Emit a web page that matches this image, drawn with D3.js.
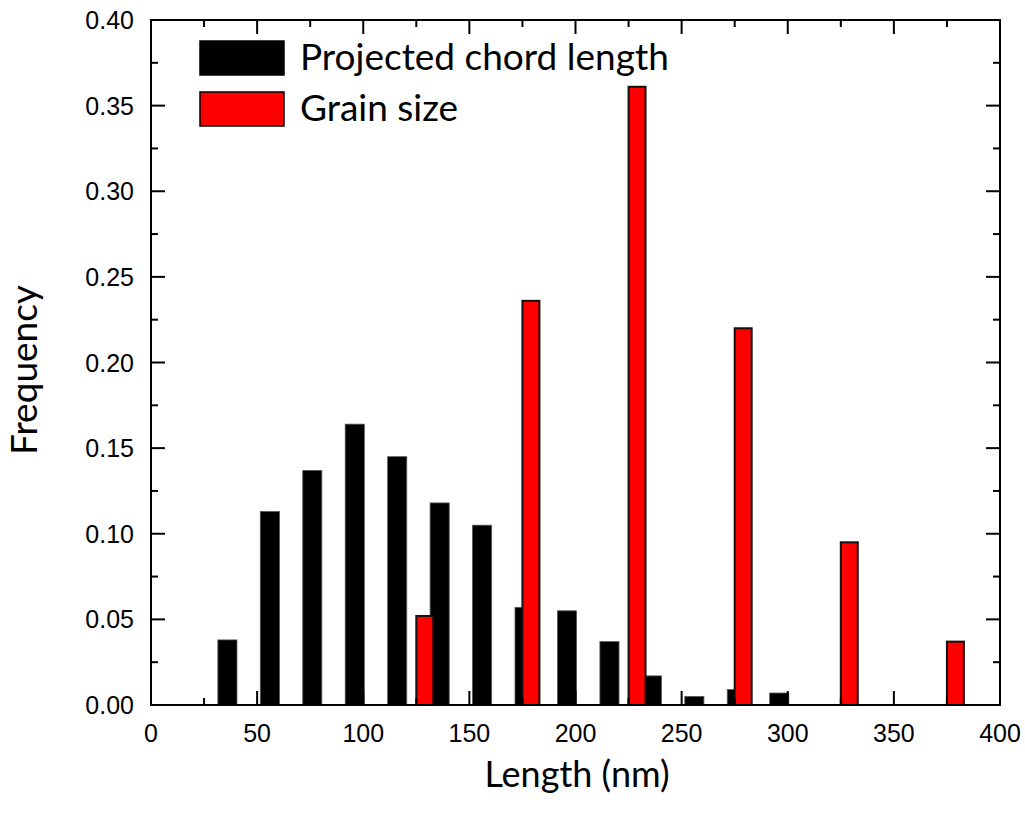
<!DOCTYPE html>
<html>
<head>
<meta charset="utf-8">
<script src="https://cdn.jsdelivr.net/npm/d3@7"></script>
<style>
body { margin: 0; background: #fff; }
</style>
</head>
<body>
<script>
"use strict";

// bin centres (nm) and frequencies
var chordCenters = [36, 56, 76, 96, 116, 136, 156, 176, 196, 216, 236, 256, 276, 296];
var chordFreq = [0.038, 0.113, 0.137, 0.164, 0.145, 0.118, 0.105, 0.057, 0.055, 0.037, 0.017, 0.005, 0.009, 0.007];
var grainCenters = [129, 179, 229, 279, 329, 379];
var grainFreq = [0.052, 0.236, 0.361, 0.220, 0.095, 0.037];
var xTicks = [0, 50, 100, 150, 200, 250, 300, 350, 400];
var yTicks = [0, 0.05, 0.10, 0.15, 0.20, 0.25, 0.30, 0.35, 0.40];
var legendLabels = ["Projected chord length", "Grain size"];

var widthEcran = 1025, heightEcran = 817;
var plotLeft = 151, plotRight = 1000, plotTop = 20, plotBottom = 705;

var canvas = d3.select("body").append("svg")
    .attr("width", widthEcran)
    .attr("height", heightEcran);

var x = d3.scaleLinear().domain([0, 400]).range([plotLeft, plotRight]);
var y = d3.scaleLinear().domain([0, 0.40]).range([plotBottom, plotTop]);

var chordW = 9, grainW = 8;

// black bars
canvas.selectAll(".chord").data(chordCenters).enter()
    .append("rect")
    .attr("class", "chord")
    .attr("x", function(d) { return x(d - chordW / 2); })
    .attr("width", x(chordW) - x(0))
    .attr("y", function(d, i) { return y(chordFreq[i]); })
    .attr("height", function(d, i) { return plotBottom - y(chordFreq[i]); })
    .attr("fill", "#000")
    .attr("stroke", "#555")
    .attr("stroke-width", 0.8);

// red bars
canvas.selectAll(".grain").data(grainCenters).enter()
    .append("rect")
    .attr("class", "grain")
    .attr("x", function(d) { return x(d - grainW / 2); })
    .attr("width", x(grainW) - x(0))
    .attr("y", function(d, i) { return y(grainFreq[i]); })
    .attr("height", function(d, i) { return plotBottom - y(grainFreq[i]); })
    .attr("fill", "#ff0000")
    .attr("stroke", "#111")
    .attr("stroke-width", 2);

// ticks inside on all four sides
var minorX = d3.range(25, 400, 50);
var minorY = d3.range(0.025, 0.40, 0.05);
function tickLines(vals, len, horiz) {
    var g = canvas.append("g").attr("stroke", "#000").attr("stroke-width", 2);
    vals.forEach(function(v) {
        if (horiz) {
            g.append("line").attr("x1", x(v)).attr("x2", x(v)).attr("y1", plotBottom).attr("y2", plotBottom - len);
            g.append("line").attr("x1", x(v)).attr("x2", x(v)).attr("y1", plotTop).attr("y2", plotTop + len);
        } else {
            g.append("line").attr("y1", y(v)).attr("y2", y(v)).attr("x1", plotLeft).attr("x2", plotLeft + len);
            g.append("line").attr("y1", y(v)).attr("y2", y(v)).attr("x1", plotRight).attr("x2", plotRight - len);
        }
    });
}
tickLines(xTicks, 14, true);
tickLines(minorX, 7, true);
tickLines(yTicks, 14, false);
tickLines(minorY, 7, false);

canvas.append("rect")
    .attr("x", plotLeft).attr("y", plotTop)
    .attr("width", plotRight - plotLeft).attr("height", plotBottom - plotTop)
    .attr("fill", "none").attr("stroke", "#000").attr("stroke-width", 2);

// tick labels
canvas.selectAll(".xl").data(xTicks).enter()
    .append("text")
    .attr("x", function(d) { return x(d); })
    .attr("y", 742)
    .attr("text-anchor", "middle")
    .attr("font-family", "Liberation Sans, Arial, sans-serif")
    .attr("font-size", 25)
    .text(function(d) { return d; });

canvas.selectAll(".yl").data(yTicks).enter()
    .append("text")
    .attr("x", 134)
    .attr("y", function(d) { return y(d) + 9; })
    .attr("text-anchor", "end")
    .attr("font-family", "Liberation Sans, Arial, sans-serif")
    .attr("font-size", 25)
    .text(function(d) { return d3.format(".2f")(d); });

// axis titles
canvas.append("text")
    .attr("x", 577).attr("y", 787)
    .attr("text-anchor", "middle")
    .attr("font-family", "Lato, sans-serif")
    .attr("font-size", 36)
    .text("Length (nm)");

canvas.append("text")
    .attr("transform", "translate(37,370) rotate(-90)")
    .attr("text-anchor", "middle")
    .attr("font-family", "Lato, sans-serif")
    .attr("font-size", 37)
    .text("Frequency");

// legend
var legendColors = ["#000", "#ff0000"];
var legendY = [41, 92];
legendLabels.forEach(function(lab, i) {
    canvas.append("rect")
        .attr("x", 200).attr("y", legendY[i])
        .attr("width", 84).attr("height", 34)
        .attr("fill", legendColors[i])
        .attr("stroke", "#000").attr("stroke-width", 1.5);
    canvas.append("text")
        .attr("x", 300).attr("y", legendY[i] + 29)
        .attr("font-family", "Lato, sans-serif")
        .attr("font-size", 37)
        .text(lab);
});
</script>
</body>
</html>
